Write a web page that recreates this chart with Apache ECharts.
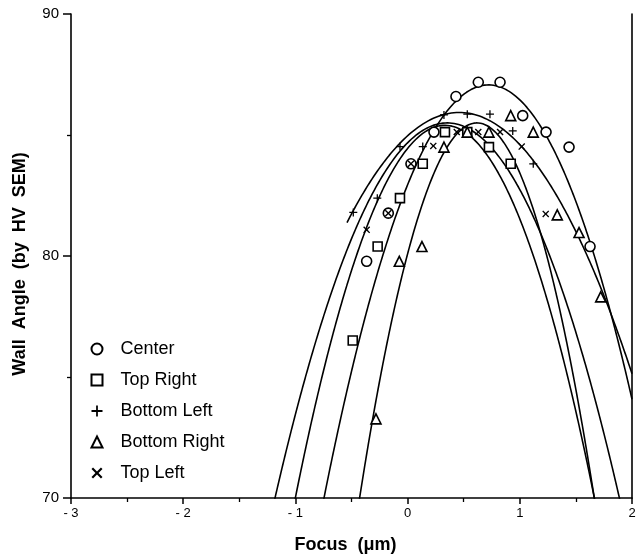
<!DOCTYPE html>
<html>
<head>
<meta charset="utf-8">
<script src="https://cdn.jsdelivr.net/npm/echarts@6/dist/echarts.min.js"></script>
<style>
  html, body { margin: 0; padding: 0; background: #fff; }
  #chart { width: 636px; height: 559px; }
</style>
</head>
<body>
<div id="chart"></div>
<script>
// Wall angle (HV SEM) against focus for five sites, each with its parabolic fit.
const seriesNames = ['Center', 'Top Right', 'Bottom Left', 'Bottom Right', 'Top Left'];

const centerFocus = [-0.365, -0.172, 0.030, 0.235, 0.431, 0.630, 0.824, 1.026, 1.234, 1.439, 1.626];
const centerAngle = [79.78, 81.77, 83.81, 85.12, 86.59, 87.18, 87.18, 85.80, 85.12, 84.50, 80.39];

const topRightFocus = [-0.489, -0.267, -0.068, 0.135, 0.333, 0.532, 0.725, 0.919];
const topRightAngle = [76.51, 80.39, 82.39, 83.81, 85.12, 85.12, 84.50, 83.81];

const bottomLeftFocus = [-0.484, -0.270, -0.068, 0.135, 0.324, 0.532, 0.734, 0.937, 1.120];
const bottomLeftAngle = [81.80, 82.39, 84.52, 84.52, 85.83, 85.86, 85.86, 85.17, 83.81];

const bottomRightFocus = [-0.282, -0.074, 0.128, 0.324, 0.532, 0.725, 0.919, 1.120, 1.334, 1.528, 1.721];
const bottomRightAngle = [73.27, 79.78, 80.39, 84.50, 85.12, 85.12, 85.80, 85.12, 81.70, 80.97, 78.31];

const topLeftFocus = [-0.365, -0.172, 0.030, 0.229, 0.438, 0.630, 0.824, 1.017, 1.231];
const topLeftAngle = [81.08, 81.77, 83.81, 84.55, 85.12, 85.12, 85.12, 84.52, 81.74];

// Fitted parabolas: angle = peakAngle - curvature * (focus - peakFocus)^2
const fitPeakFocus = [0.721, 0.332, 0.46, 0.618, 0.353];
const fitPeakAngle = [87.07, 85.4, 85.93, 85.5, 85.5];
const fitCurvature = [7.94, 8.67, 4.55, 14.17, 6.58];
// Focus where each fit curve begins (null = from the axis minimum)
const fitStart = [null, null, -0.54, null, null];

const xTicks = [-3, -2, -1, 0, 1, 2];
const yTicks = [70, 80, 90];

const focusSets = [centerFocus, topRightFocus, bottomLeftFocus, bottomRightFocus, topLeftFocus];
const angleSets = [centerAngle, topRightAngle, bottomLeftAngle, bottomRightAngle, topLeftAngle];

const FONT = '"Liberation Sans", Arial, Helvetica, sans-serif';

const plusPath = 'path://M-1,-0.16L-0.16,-0.16L-0.16,-1L0.16,-1L0.16,-0.16L1,-0.16L1,0.16L0.16,0.16L0.16,1L-0.16,1L-0.16,0.16L-1,0.16Z';
const crossPath = 'path://M-1,-0.72L-0.72,-1L0,-0.28L0.72,-1L1,-0.72L0.28,0L1,0.72L0.72,1L0,0.28L-0.72,1L-1,0.72L-0.28,0Z';

const markerStyles = [
  { symbol: 'circle', size: 10, fill: '#fff', border: 1.6 },
  { symbol: 'rect', size: 9, fill: '#fff', border: 1.6 },
  { symbol: plusPath, size: 8, fill: '#000', border: 0 },
  { symbol: 'triangle', size: 10, fill: '#fff', border: 1.6 },
  { symbol: crossPath, size: 7, fill: '#000', border: 0 }
];

const xMin = xTicks[0], xMax = xTicks[xTicks.length - 1];
const series = [];
seriesNames.forEach((name, i) => {
  const xs = focusSets[i], ys = angleSets[i];
  const st = markerStyles[i];
  series.push({
    name: name,
    type: 'scatter',
    symbol: st.symbol,
    symbolSize: st.size,
    itemStyle: { color: st.fill, borderColor: '#000', borderWidth: st.border, opacity: 1 },
    data: xs.map((x, k) => [x, ys[k]]),
    z: 3
  });
  const h = fitPeakFocus[i], p = fitPeakAngle[i], c = fitCurvature[i];
  const from = fitStart[i] === null ? xMin : fitStart[i];
  const curve = [];
  const steps = 1000;
  for (let k = 0; k <= steps; k++) {
    const x = from + (xMax - from) * k / steps;
    curve.push([x, p - c * (x - h) * (x - h)]);
  }
  series.push({
    name: name + ' fit',
    type: 'line',
    data: curve,
    showSymbol: false,
    symbol: 'none',
    clip: true,
    silent: true,
    lineStyle: { color: '#000', width: 1.6 },
    z: 2
  });
});

const chart = echarts.init(document.getElementById('chart'), null, { renderer: 'canvas' });
chart.setOption({
  animation: false,
  backgroundColor: '#fff',
  grid: { left: 71, right: 4, top: 14, bottom: 61, containLabel: false, outerBoundsMode: 'none' },
  legend: {
    orient: 'vertical',
    left: 85.5,
    top: 335,
    itemWidth: 11,
    itemHeight: 11,
    itemGap: 13,
    data: seriesNames,
    textStyle: { fontFamily: FONT, fontSize: 18, color: '#000', padding: [0, 0, 0, 13] },
    selectedMode: false
  },
  xAxis: {
    type: 'value',
    min: xMin,
    max: xMax,
    interval: 1,
    name: 'Focus  (\u03bcm)',
    nameLocation: 'middle',
    nameGap: 38,
    nameMoveOverlap: false,
    nameTextStyle: { fontFamily: FONT, fontSize: 18, fontWeight: 'bold', color: '#000', padding: [0, 12, 0, 0] },
    axisLine: { show: true, onZero: false, lineStyle: { color: '#000', width: 1.6 } },
    axisTick: { show: true, length: 6, lineStyle: { color: '#000', width: 1.5 } },
    minorTick: { show: true, splitNumber: 2, length: 4, lineStyle: { color: '#000', width: 1.3 } },
    axisLabel: {
      fontFamily: FONT, fontSize: 13, color: '#000', margin: 9,
      formatter: v => (v < 0 ? '- ' + Math.abs(v) : String(v))
    },
    splitLine: { show: false }
  },
  yAxis: [{
    type: 'value',
    min: yTicks[0],
    max: yTicks[yTicks.length - 1],
    interval: 10,
    name: 'Wall  Angle  (by  HV  SEM)',
    nameLocation: 'middle',
    nameGap: 42,
    nameRotate: 90,
    nameMoveOverlap: false,
    nameTextStyle: { fontFamily: FONT, fontSize: 18, fontWeight: 'bold', color: '#000', padding: [0, 16, 0, 0] },
    axisLine: { show: true, onZero: false, lineStyle: { color: '#000', width: 1.6 } },
    axisTick: { show: true, length: 8, lineStyle: { color: '#000', width: 1.5 } },
    minorTick: { show: true, splitNumber: 2, length: 4, lineStyle: { color: '#000', width: 1.3 } },
    axisLabel: { fontFamily: FONT, fontSize: 15, color: '#000', margin: 12 },
    splitLine: { show: false }
  }, {
    type: 'value',
    position: 'right',
    min: yTicks[0],
    max: yTicks[yTicks.length - 1],
    axisLine: { show: true, onZero: false, lineStyle: { color: '#000', width: 1.6 } },
    axisTick: { show: false },
    axisLabel: { show: false },
    splitLine: { show: false }
  }],
  series: series
});
</script>
</body>
</html>
